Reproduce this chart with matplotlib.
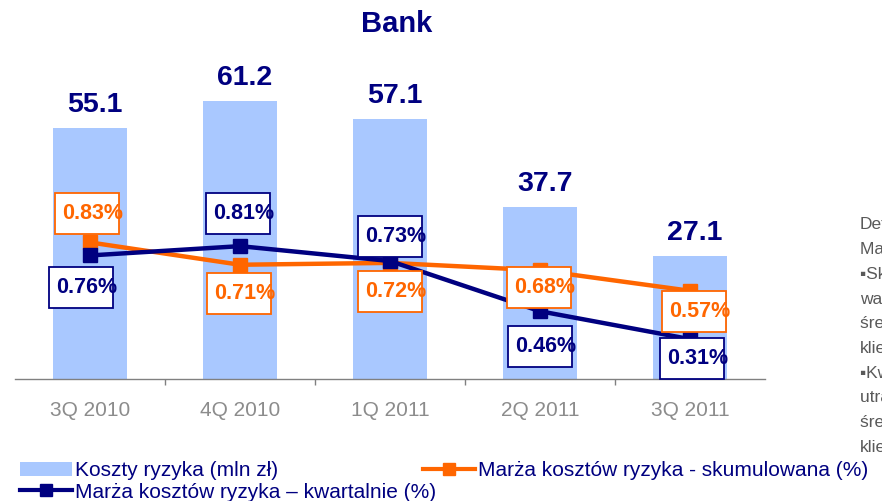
import matplotlib
matplotlib.use('Agg')
import matplotlib.pyplot as plt
from matplotlib.patches import Rectangle, Patch
from matplotlib.lines import Line2D
from matplotlib.transforms import IdentityTransform

plt.rcParams['font.family'] = ['Liberation Sans', 'DejaVu Sans']

# ---- data ----
categories = ['3Q 2010', '4Q 2010', '1Q 2011', '2Q 2011', '3Q 2011']
koszty = [55.1, 61.2, 57.1, 37.7, 27.1]
marza_skum = [0.83, 0.71, 0.72, 0.68, 0.57]
marza_kw = [0.76, 0.81, 0.73, 0.46, 0.31]
skum_labels = ['0.83%', '0.71%', '0.72%', '0.68%', '0.57%']
kw_labels = ['0.76%', '0.81%', '0.73%', '0.46%', '0.31%']
legend_labels = ['Koszty ryzyka (mln zł)',
                 'Marża kosztów ryzyka – kwartalnie (%)',
                 'Marża kosztów ryzyka - skumulowana (%)']
side_text = ['Definicja:',
             'Marża kosztów ryzyka:',
             '▪Skumulowana: koszty ryzyka',
             'wartości (annualizowane) /',
             'średnie saldo kredytów',
             'klientów',
             '▪Kwartalna: koszty ryzyka',
             'utraty wartości w kwartale /',
             'średnie saldo kredytów',
             'klientów']

# ---- styles ----
BAR = '#A9C8FF'
ORANGE = '#FF6600'
NAVY = '#000080'
GRAY = '#808080'
W, H = 882, 501

# label box offsets (pixels, dx right, dy down) relative to marker
skum_off = [(-3, -28.9), (-1, 28.8), (-0.5, 29.1), (-1.5, 16.7), (4, 20.7)]
kw_off = [(-9.5, 31.6), (-2.5, -32.6), (-0.5, -25), (0, 34.8), (2, 18.9)]
BOX_W, BOX_H = 64, 41

fig = plt.figure(figsize=(W / 100, H / 100), dpi=100)
ax = fig.add_axes([15 / W, (H - 379) / H, 750 / W, (379 - 60) / H])
xs = list(range(len(categories)))
ax.bar(xs, koszty, width=0.49, color=BAR, zorder=1)
ax.set_xlim(-0.5, 4.5)
ax.set_ylim(0, 70.1)
for s in ['left', 'right', 'top']:
    ax.spines[s].set_visible(False)
ax.spines['bottom'].set_color(GRAY)
ax.spines['bottom'].set_linewidth(1.0)
ax.set_yticks([])
ax.set_xticks(xs, categories)
ax.set_xticks([0.5, 1.5, 2.5, 3.5], minor=True)
ax.tick_params(axis='x', which='major', length=0, pad=16, labelsize=15, labelcolor='#8C8C8C')
ax.tick_params(axis='x', which='minor', length=4, width=1, color=GRAY, direction='out')

for i, v in enumerate(koszty):
    ax.annotate(f'{v}', xy=(i, v), xytext=(5, 23), textcoords='offset pixels',
                ha='center', va='center', fontsize=20.5, fontweight='bold', color=NAVY)

ax2 = ax.twinx()
ax2.set_ylim(0.0957, 1.8108)
ax2.set_yticks([])
for s in ax2.spines.values():
    s.set_visible(False)
ax2.plot(xs, marza_skum, color=ORANGE, lw=3.2, marker='s', ms=9.5, zorder=3)
ax2.plot(xs, marza_kw, color=NAVY, lw=3.2, marker='s', ms=10.5, zorder=4)

def boxed(vals, labels, offs, col):
    for i, (v, lab, (dx, dy)) in enumerate(zip(vals, labels, offs)):
        px, py = ax2.transData.transform((i, v))
        cx, cy = px + dx, py - dy
        r = Rectangle((cx - BOX_W / 2, cy - BOX_H / 2), BOX_W, BOX_H,
                      transform=IdentityTransform(), facecolor='white',
                      edgecolor=col, linewidth=1.3, zorder=5)
        fig.add_artist(r)
        fig.text(cx + 6, cy, lab, transform=IdentityTransform(), ha='center', va='center',
                 fontsize=15.5, fontweight='bold', color=col, zorder=6)

boxed(marza_skum, skum_labels, skum_off, ORANGE)
boxed(marza_kw, kw_labels, kw_off, NAVY)

fig.text(397 / W, 1 - 24 / H, 'Bank', ha='center', va='center', fontsize=21,
         fontweight='bold', color=NAVY)

for k, line in enumerate(side_text):
    fig.text(860 / W, 1 - (225 + 24.7 * k) / H, line, ha='left', va='center',
             fontsize=12.5, color='#595959')

h_bar = Patch(facecolor=BAR, edgecolor='none')
h_kw = Line2D([], [], color=NAVY, lw=3, marker='s', ms=9)
h_sk = Line2D([], [], color=ORANGE, lw=3, marker='s', ms=8)
common = dict(frameon=False, fontsize=15, handlelength=2.5, handletextpad=0.15,
              borderpad=0, borderaxespad=0, labelcolor=NAVY,
              handleheight=0.65, loc='center left')
for h, lab, (lx, ly) in zip([h_bar, h_kw, h_sk], legend_labels,
                            [(20, 471), (20, 492), (423, 471)]):
    lg = fig.legend([h], [lab], bbox_to_anchor=(lx / W, 1 - ly / H), **common)

fig.savefig('out.png', dpi=100)
